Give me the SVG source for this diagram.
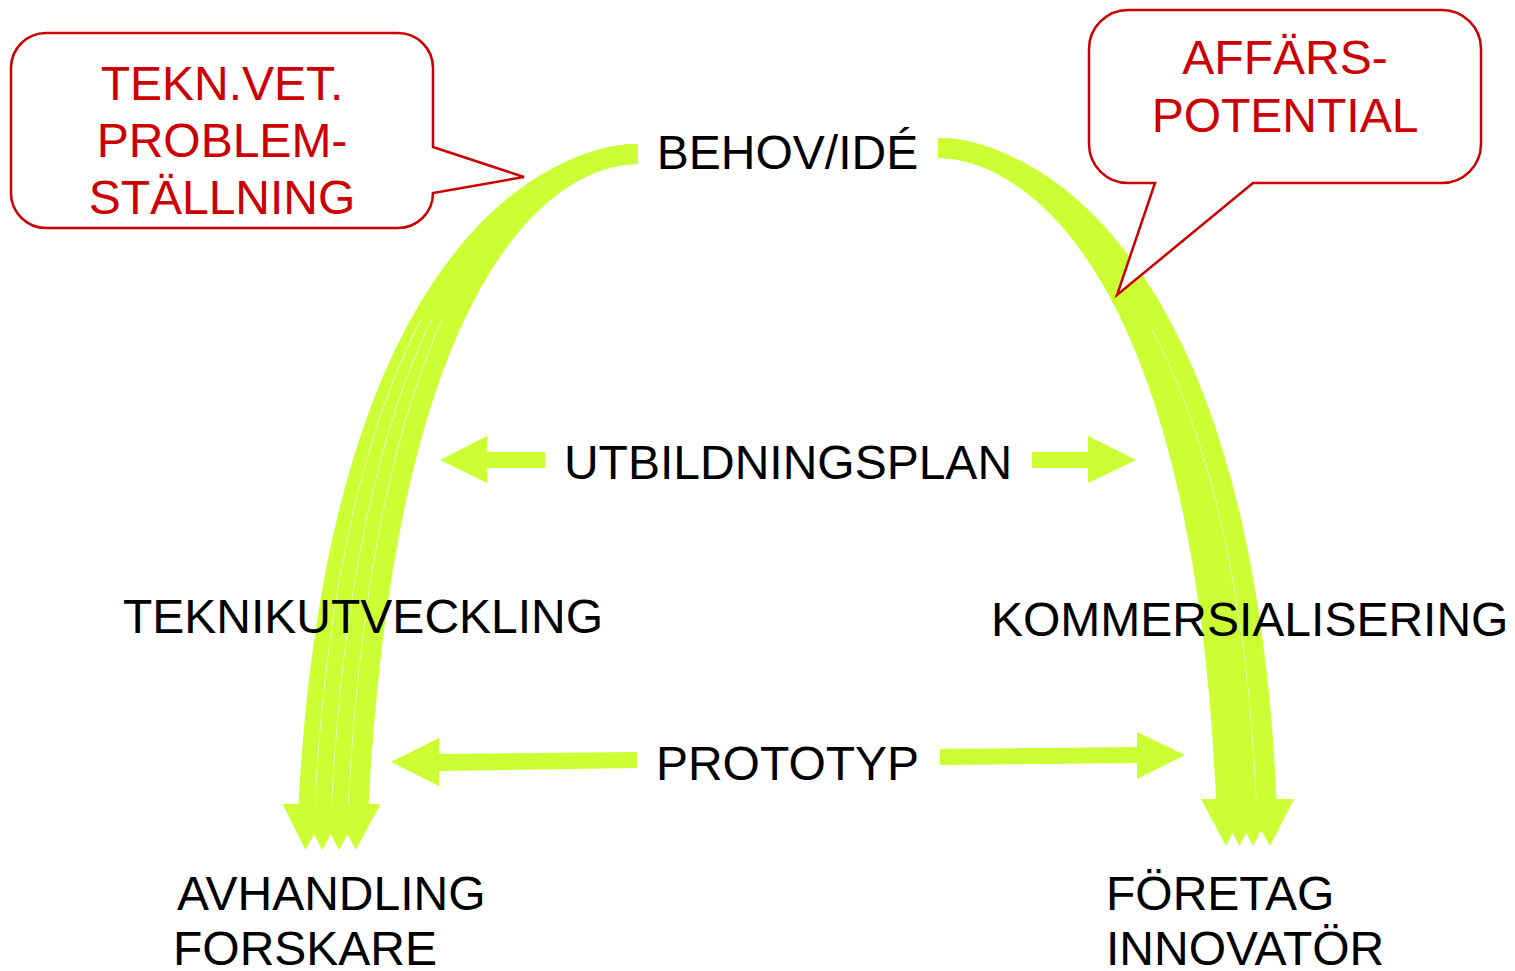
<svg xmlns="http://www.w3.org/2000/svg" width="1515" height="971" viewBox="0 0 1515 971">
<defs>
<clipPath id="lowL"><rect x="0" y="320" width="760" height="651"/></clipPath>
<clipPath id="lowR"><rect x="760" y="330" width="755" height="641"/></clipPath>
</defs>
<style>
.wo{fill:none;stroke:#ffffff;stroke-width:21.2}
.gs{fill:none;stroke:#CCFF33;stroke-width:20}
.hd{fill:#CCFF33}
.lbl{font-family:"Liberation Sans",Arial,sans-serif;font-size:48px;fill:#000}
.red{font-family:"Liberation Sans",Arial,sans-serif;font-size:48px;fill:#CC0000;text-anchor:middle}
.call{fill:#fff;stroke:#CC0000;stroke-width:2.5;stroke-linejoin:miter}
</style>
<rect width="1515" height="971" fill="#fff"/>
<g id="connectors">
  <g id="arc-left">
    <path class="gs" d="M638,154 C565,154 338.5,235 308.5,805"/>
    <path class="wo" clip-path="url(#lowL)" d="M638,154 C565,154 355.2,235 325.2,805"/>
    <path class="gs" d="M638,154 C565,154 355.2,235 325.2,805"/>
    <path class="wo" clip-path="url(#lowL)" d="M638,154 C565,154 371.9,235 341.9,805"/>
    <path class="gs" d="M638,154 C565,154 371.9,235 341.9,805"/>
    <path class="wo" clip-path="url(#lowL)" d="M638,154 C565,154 388.6,235 358.6,805"/>
    <path class="gs" d="M638,154 C565,154 388.6,235 358.6,805"/>
    <polygon class="hd" points="282.5,804 330.5,804 305.5,850"/>
    <polygon class="hd" points="299.2,804 347.2,804 322.2,850"/>
    <polygon class="hd" points="315.9,804 363.9,804 338.9,850"/>
    <polygon class="hd" points="332.6,804 380.6,804 355.6,850"/>
  </g>
  <g id="arc-right">
    <path class="gs" d="M938,148 C1013,148 1201,235 1226,800"/>
    <path class="gs" d="M938,148 C1013,148 1214.5,235 1239.5,800"/>
    <path class="gs" d="M938,148 C1013,148 1228,235 1253,800"/>
    <path class="wo" clip-path="url(#lowR)" d="M938,148 C1013,148 1241.5,235 1266.5,800"/>
    <path class="gs" d="M938,148 C1013,148 1241.5,235 1266.5,800"/>
    <polygon class="hd" points="1201,799 1250,799 1226,846"/>
    <polygon class="hd" points="1214.5,799 1263.5,799 1239.5,846"/>
    <polygon class="hd" points="1228,799 1277,799 1253,846"/>
    <polygon class="hd" points="1243,799 1294,799 1270,846"/>
  </g>
  <polygon id="utb-left" class="hd" points="440,460 487,436 487,452 545,452 545,468 487,468 487,483"/>
  <polygon id="utb-right" class="hd" points="1136,460 1088,436 1088,452 1032,452 1032,468 1088,468 1088,483"/>
  <polygon id="proto-left" class="hd" points="391,762 439,738 439,754 637,752 637,768 439,771 439,786"/>
  <polygon id="proto-right" class="hd" points="940,749 1137,747 1137,732 1185,755 1137,779 1137,763 940,765"/>
</g>
<g id="callout-tekn">
  <path class="call" d="M46,33 H398 A35,35 0 0 1 433,68 V147 L524,177 L433,193 A35,35 0 0 1 398,228 H46 A35,35 0 0 1 11,193 V68 A35,35 0 0 1 46,33 Z"/>
  <text class="red" x="222" y="100">TEKN.VET.</text>
  <text class="red" x="222" y="157">PROBLEM-</text>
  <text class="red" x="222" y="214">STÄLLNING</text>
</g>
<g id="callout-affars">
  <path class="call" d="M1128,10 H1442 A39,39 0 0 1 1481,49 V144 A39,39 0 0 1 1442,183 H1253 L1117,295 L1155,183 H1128 A39,39 0 0 1 1089,144 V49 A39,39 0 0 1 1128,10 Z"/>
  <text class="red" x="1285" y="74">AFFÄRS-</text>
  <text class="red" x="1285" y="132">POTENTIAL</text>
</g>
<g id="node-behov"><text class="lbl" x="787.5" y="169" text-anchor="middle">BEHOV/IDÉ</text></g>
<g id="node-utbildningsplan"><text class="lbl" x="788" y="479" text-anchor="middle">UTBILDNINGSPLAN</text></g>
<g id="node-teknikutveckling"><text class="lbl" x="123" y="633">TEKNIKUTVECKLING</text></g>
<g id="node-kommersialisering"><text class="lbl" x="991" y="636">KOMMERSIALISERING</text></g>
<g id="node-prototyp"><text class="lbl" x="787.5" y="780" text-anchor="middle">PROTOTYP</text></g>
<g id="node-avhandling">
  <text class="lbl" x="177" y="910">AVHANDLING</text>
  <text class="lbl" x="173" y="965">FORSKARE</text>
</g>
<g id="node-foretag">
  <text class="lbl" x="1106" y="910">FÖRETAG</text>
  <text class="lbl" x="1106" y="965">INNOVATÖR</text>
</g>
</svg>
